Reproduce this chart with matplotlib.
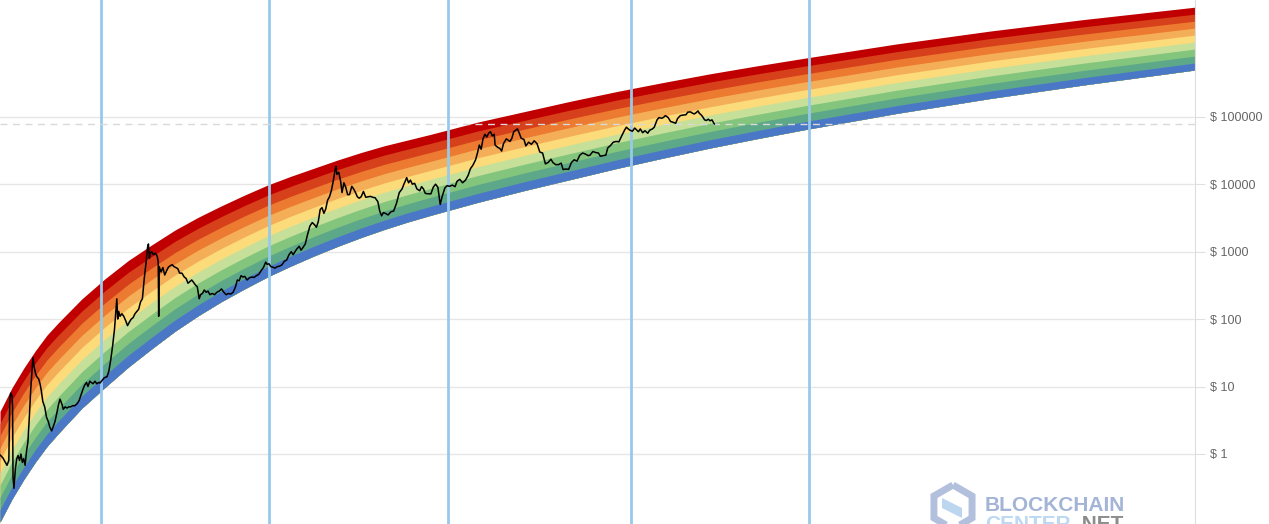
import matplotlib.pyplot as plt
import matplotlib.patches as mpatches
import numpy as np

plt.rcParams['font.family'] = ['Liberation Sans', 'DejaVu Sans']

# rainbow edges, log10(USD)
band_years = [2010.74, 2011.0, 2011.25, 2011.5, 2011.75, 2012.0, 2012.5, 2013.0, 2013.5, 2014.0,
              2014.5, 2015.0, 2015.5, 2016.0, 2016.5, 2017.0, 2017.5, 2018.0, 2018.5, 2019.0,
              2019.5, 2020.0, 2021.0, 2022.0, 2023.0, 2024.0,
              2025.0, 2026.0, 2027.0, 2028.0, 2030.0, 2032.0, 2034.0, 2036.5]
band_floor = [-1.008, -0.665, -0.378, -0.119, 0.113, 0.31, 0.68, 0.99, 1.29, 1.56,
              1.82, 2.05, 2.26, 2.45, 2.63, 2.79, 2.94, 3.08, 3.21, 3.33,
              3.44, 3.54, 3.73, 3.905, 4.07, 4.235,
              4.389, 4.537, 4.674, 4.805, 5.049, 5.269, 5.469, 5.701]
band_top = [0.632, 0.985, 1.272, 1.531, 1.763, 1.95, 2.30, 2.60, 2.87, 3.10,
            3.32, 3.51, 3.68, 3.84, 3.99, 4.12, 4.24, 4.36, 4.47, 4.57,
            4.655, 4.74, 4.92, 5.075, 5.23, 5.375,
            5.509, 5.637, 5.754, 5.865, 6.079, 6.269, 6.439, 6.631]
# top band first
band_colors = ['#c00000', '#d6401a', '#ec7a30', '#f5ae58', '#fcdb7a',
               '#c6e09a', '#84c57e', '#5ea88a', '#4a78c6']

halvings = [2012.91, 2016.52, 2020.36, 2024.30, 2028.13]

price_years = [
    2010.74, 2010.80, 2010.86, 2010.89, 2010.93, 2010.95, 2010.97, 2011.00, 2011.01, 2011.02,
    2011.04, 2011.07, 2011.10, 2011.13, 2011.16, 2011.19, 2011.22, 2011.25, 2011.28, 2011.31,
    2011.34, 2011.37, 2011.40, 2011.43, 2011.45, 2011.47, 2011.50, 2011.53, 2011.57, 2011.60,
    2011.63, 2011.66, 2011.70, 2011.74, 2011.78, 2011.81, 2011.85, 2011.88, 2011.92, 2011.96,
    2012.00, 2012.03, 2012.07, 2012.10, 2012.14, 2012.18, 2012.22, 2012.26, 2012.30, 2012.35,
    2012.40, 2012.44, 2012.48, 2012.52, 2012.56, 2012.60, 2012.63, 2012.67, 2012.70, 2012.74,
    2012.78, 2012.82, 2012.86, 2012.89, 2012.94, 2012.98, 2013.04, 2013.08, 2013.12, 2013.16,
    2013.20, 2013.23, 2013.25, 2013.27, 2013.29, 2013.32, 2013.36, 2013.40, 2013.44, 2013.48,
    2013.52, 2013.56, 2013.60, 2013.64, 2013.68, 2013.72, 2013.76, 2013.80, 2013.84, 2013.88,
    2013.91, 2013.93, 2013.95, 2013.97, 2014.00, 2014.04, 2014.08, 2014.12, 2014.14, 2014.15,
    2014.16, 2014.20, 2014.24, 2014.28, 2014.32, 2014.36, 2014.40, 2014.44, 2014.48, 2014.52,
    2014.56, 2014.60, 2014.65, 2014.70, 2014.74, 2014.78, 2014.82, 2014.86, 2014.90, 2014.94,
    2014.98, 2015.02, 2015.05, 2015.09, 2015.13, 2015.17, 2015.21, 2015.25, 2015.30, 2015.35,
    2015.40, 2015.45, 2015.50, 2015.55, 2015.60, 2015.65, 2015.70, 2015.75, 2015.80, 2015.84,
    2015.88, 2015.92, 2015.96, 2016.00, 2016.05, 2016.10, 2016.15, 2016.20, 2016.25, 2016.30,
    2016.35, 2016.40, 2016.45, 2016.48, 2016.52, 2016.56, 2016.60, 2016.65, 2016.70, 2016.75,
    2016.80, 2016.85, 2016.90, 2016.95, 2017.00, 2017.04, 2017.08, 2017.12, 2017.17, 2017.21,
    2017.25, 2017.30, 2017.35, 2017.40, 2017.45, 2017.50, 2017.54, 2017.58, 2017.62, 2017.66,
    2017.70, 2017.74, 2017.78, 2017.82, 2017.86, 2017.90, 2017.94, 2017.96, 2017.98, 2018.02,
    2018.06, 2018.09, 2018.13, 2018.17, 2018.21, 2018.25, 2018.30, 2018.34, 2018.38, 2018.42,
    2018.46, 2018.50, 2018.55, 2018.60, 2018.65, 2018.70, 2018.75, 2018.80, 2018.86, 2018.90,
    2018.94, 2018.98, 2019.02, 2019.08, 2019.14, 2019.20, 2019.26, 2019.32, 2019.38, 2019.42,
    2019.48, 2019.52, 2019.56, 2019.60, 2019.65, 2019.70, 2019.76, 2019.80, 2019.84, 2019.88,
    2019.94, 2020.00, 2020.05, 2020.10, 2020.15, 2020.20, 2020.24, 2020.30, 2020.35, 2020.40,
    2020.46, 2020.52, 2020.56, 2020.62, 2020.68, 2020.74, 2020.80, 2020.85, 2020.90, 2020.96,
    2021.00, 2021.04, 2021.08, 2021.12, 2021.16, 2021.20, 2021.24, 2021.28, 2021.32, 2021.36,
    2021.38, 2021.44, 2021.48, 2021.52, 2021.56, 2021.62, 2021.66, 2021.70, 2021.74, 2021.78,
    2021.82, 2021.86, 2021.90, 2021.94, 2022.00, 2022.04, 2022.10, 2022.16, 2022.22, 2022.28,
    2022.34, 2022.40, 2022.46, 2022.52, 2022.58, 2022.62, 2022.68, 2022.74, 2022.80, 2022.84,
    2022.90, 2022.96, 2023.02, 2023.08, 2023.14, 2023.20, 2023.26, 2023.32, 2023.38, 2023.42,
    2023.48, 2023.54, 2023.60, 2023.64, 2023.70, 2023.76, 2023.80, 2023.86, 2023.92, 2023.98,
    2024.04, 2024.10, 2024.16, 2024.20, 2024.24, 2024.28, 2024.33, 2024.38, 2024.42, 2024.46,
    2024.50, 2024.55, 2024.60, 2024.66, 2024.70, 2024.76, 2024.80, 2024.86, 2024.90, 2024.96,
    2025.00, 2025.04, 2025.10, 2025.15, 2025.20, 2025.26, 2025.30, 2025.36, 2025.42, 2025.48,
    2025.52, 2025.58, 2025.62, 2025.66, 2025.70, 2025.74, 2025.77, 2025.80, 2025.84, 2025.88,
    2025.92, 2025.96, 2026.00, 2026.04, 2026.09]
price_usd = [
    0.97, 0.88, 0.74, 0.68, 0.80, 6.5, 8.0, 7.2, 5.0, 0.45,
    0.31, 0.6, 0.85, 0.95, 0.80, 1.0, 0.75, 0.85, 0.68, 1.1,
    1.5, 3.5, 9.0, 18, 27, 20, 16, 14, 13, 11,
    8.5, 6.0, 5.0, 3.5, 3.0, 2.5, 2.2, 2.5, 3.0, 4.0,
    5.5, 6.5, 5.5, 4.6, 5.0, 4.8, 5.0, 5.0, 5.2, 5.2,
    5.6, 6.2, 7.5, 9.0, 10.5, 11.5, 10.0, 12.0, 11.5, 11.0,
    12.0, 11.0, 11.5, 11.3, 12.5, 13.5, 14.0, 17, 25, 40,
    70, 130, 200, 100, 130, 110, 120, 110, 95, 80,
    90, 100, 105, 120, 130, 140, 180, 200, 400, 700,
    1150, 1300, 800, 950, 1000, 900, 950, 850, 700, 110,
    600, 500, 580, 450, 520, 590, 620, 640, 600, 580,
    560, 480, 480, 420, 400, 340, 360, 380, 350, 320,
    300, 200, 230, 240, 270, 250, 260, 230, 240, 230,
    250, 260, 280, 250, 230, 240, 235, 250, 300, 380,
    370, 440, 420, 430, 380, 410, 420, 415, 440, 460,
    520, 580, 700, 650, 660, 600, 590, 570, 600, 610,
    640, 720, 750, 900, 1000, 900, 1000, 1100, 1200, 1050,
    1150, 1300, 1800, 2400, 2700, 2500, 2300, 2800, 4200, 4500,
    3700, 4300, 5800, 6500, 8000, 11000, 16000, 18500, 14000, 15000,
    11000, 7500, 10500, 9000, 7000, 7000, 9300, 8500, 7500, 6500,
    6200, 6500, 7800, 6400, 6500, 6600, 6400, 6300, 5500, 4000,
    3400, 3800, 3700, 3500, 3900, 4000, 5200, 7500, 8500, 10000,
    12500, 10500, 11500, 10000, 10300, 8500, 8000, 9200, 8500, 7300,
    7200, 7200, 9000, 10000, 9000, 5000, 6500, 8800, 9500, 9300,
    9700, 9200, 11000, 11800, 10500, 11400, 13500, 17000, 19000, 23000,
    29000, 38000, 33000, 47000, 55000, 50000, 57000, 60000, 52000, 55000,
    38000, 35000, 34000, 31000, 40000, 47000, 45000, 43000, 48000, 60000,
    63000, 66000, 57000, 48000, 46000, 37000, 42000, 39000, 44000, 40000,
    30000, 29000, 20000, 21000, 23500, 21000, 19500, 19500, 20500, 16500,
    16800, 16600, 21000, 23000, 22000, 27000, 29000, 28000, 26500, 27000,
    30500, 29500, 29000, 26000, 26500, 27000, 34500, 37500, 42000, 43000,
    42500, 52000, 63000, 70000, 66000, 63000, 61000, 68000, 64000, 60000,
    66000, 58000, 62000, 57000, 63000, 66000, 70000, 90000, 97000, 95000,
    98000, 104000, 97000, 85000, 83000, 80000, 94000, 104000, 106000, 107000,
    117000, 118000, 113000, 110000, 115000, 122000, 112000, 108000, 100000, 90000,
    88000, 92000, 87000, 90000, 78000]

tick_values = [1, 10, 100, 1000, 10000, 100000]
tick_labels = ['$ 1', '$ 10', '$ 100', '$ 1000', '$ 10000', '$ 100000']

fig = plt.figure(figsize=(12.69, 5.24), dpi=100)
ax = fig.add_axes([0, 0, 1195 / 1269, 1])
ax.set_yscale('log')
ax.set_xlim(2010.74, 2036.42)
ax.set_ylim(10 ** -1.038, 10 ** 6.731)

yrs = np.array(band_years)
lo = np.array(band_floor)
hi = np.array(band_top)
n = len(band_colors)
for i, c in enumerate(band_colors):
    # each band is filled down to the floor, the next one paints over it
    edge = lo + (hi - lo) * (n - i) / n
    ax.fill_between(yrs, 10 ** lo, 10 ** edge, color=c, lw=0, zorder=1 + i * 0.01)

for h in halvings:
    ax.axvline(h, color='#98c9eb', lw=2, zorder=3)

ax.axhline(price_usd[-1], color='#d9d9d9', lw=1, ls=(0, (5, 4)), zorder=4)
ax.plot(price_years, price_usd, color='black', lw=1.1, zorder=5)

ax.set_axisbelow(True)
ax.yaxis.grid(True, which='major', color='#e6e6e6', lw=1)
ax.yaxis.tick_right()
ax.set_yticks(tick_values, tick_labels)
ax.yaxis.set_minor_locator(plt.NullLocator())
ax.tick_params(axis='y', length=7, color='#e0e0e0', labelcolor='#666666', labelsize=9, pad=4)
ax.set_xticks([])
for s in ['left', 'top', 'bottom']:
    ax.spines[s].set_visible(False)
ax.spines['right'].set_color('#dddddd')

# watermark, cut by the bottom edge as in the source
hexagon = mpatches.RegularPolygon((953, 524 - 507), 6, radius=22, orientation=0,
                                  facecolor='none', edgecolor='#aab9da', lw=5,
                                  transform=None, alpha=0.9)
fig.patches.append(hexagon)
fig.patches.append(mpatches.Polygon([(942, 26), (962, 16), (962, 6), (942, 16)], closed=True,
                                    facecolor='#bcd6f0', edgecolor='none', transform=None))
fig.text(985 / 1269, 13 / 524, 'BLOCKCHAIN', color='#a3b4d6', fontsize=15,
         fontweight='bold', va='baseline')
fig.text(985 / 1269, -6 / 524, 'CENTER', color='#bcd8f2', fontsize=15,
         fontweight='bold', va='baseline')
fig.text(1077 / 1269, -6 / 524, '.NET', color='#8c8c8c', fontsize=15,
         fontweight='bold', va='baseline')

fig.savefig('out.png', dpi=100)
